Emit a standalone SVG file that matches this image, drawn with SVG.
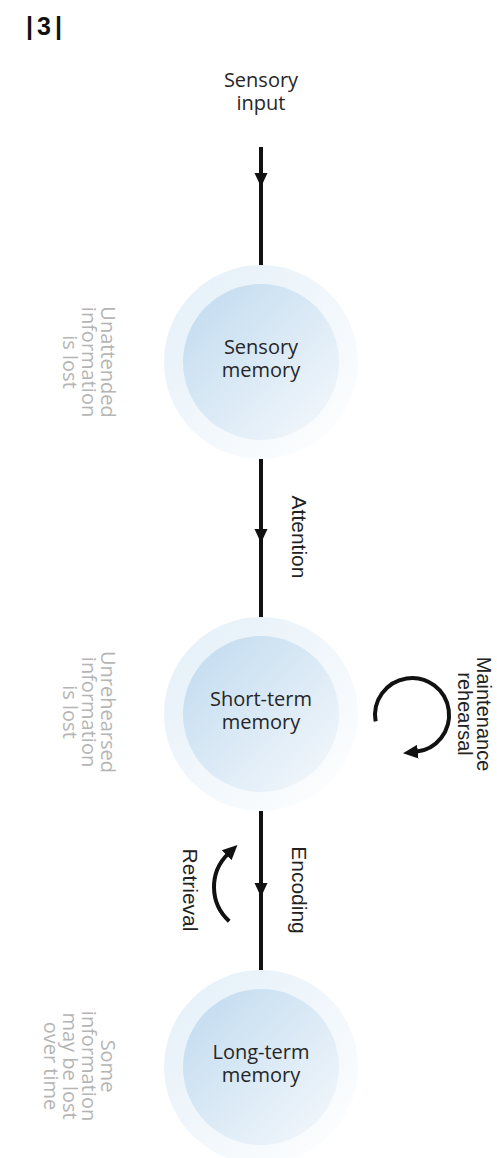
<svg xmlns="http://www.w3.org/2000/svg" width="497" height="1158" viewBox="0 0 497 1158">
  <defs>
    <linearGradient id="gOuter" x1="0" y1="0" x2="1" y2="1">
      <stop offset="0" stop-color="#e3eff8"/>
      <stop offset="1" stop-color="#ffffff"/>
    </linearGradient>
    <linearGradient id="gInner" x1="0" y1="0" x2="1" y2="1">
      <stop offset="0" stop-color="#bfdaef"/>
      <stop offset="1" stop-color="#f6f9fc"/>
    </linearGradient>
    <marker id="ah" markerUnits="userSpaceOnUse" markerWidth="16" markerHeight="16" viewBox="0 0 16 16" refX="2" refY="8" orient="auto">
      <path d="M0,1 L15,8 L0,15 Z" fill="#111"/>
    </marker>
    <style>
      .outer { fill: url(#gOuter); }
      .inner { fill: url(#gInner); }
      .ntext { font-family: "Open Sans", "Noto Sans", sans-serif; font-size: 20px; fill: #262626; text-anchor: middle; }
      .lbl { font-family: "Liberation Sans", Arial, sans-serif; font-size: 21px; fill: #222; text-anchor: middle; }
      .lbl2 { font-family: "Liberation Sans", Arial, sans-serif; font-size: 20px; fill: #222; text-anchor: middle; }
      .gray { font-family: "Open Sans", "Noto Sans", sans-serif; font-size: 20px; fill: #b5b5b5; text-anchor: middle; }
      .line { stroke: #111; stroke-width: 4; fill: none; }
      .curve { stroke: #111; stroke-width: 4; fill: none; }
      .head { fill: #111; }
      .hdr { font-family: "Liberation Sans", Arial, sans-serif; font-size: 25px; font-weight: bold; fill: #111; letter-spacing: 4px; }
    </style>
  </defs>

  <rect width="497" height="1158" fill="#ffffff"/>

  <text id="header" class="hdr" x="26" y="35">|3|</text>

  <g id="connectors">
    <g id="c-input">
      <line class="line" x1="261" y1="147" x2="261" y2="266"/>
      <polygon class="head" points="254.5,173 267.5,173 261,187"/>
    </g>
    <g id="c-attention">
      <line class="line" x1="261" y1="458" x2="261" y2="619"/>
      <polygon class="head" points="254.5,529 267.5,529 261,543"/>
    </g>
    <g id="c-encoding">
      <line class="line" x1="261" y1="810" x2="261" y2="972"/>
      <polygon class="head" points="254.5,883 267.5,883 261,897"/>
    </g>
    <g id="c-retrieval">
      <path class="curve" d="M229.2,921.2 A46,46 0 0 1 228.1,853.9" marker-end="url(#ah)"/>
    </g>
    <g id="c-maintenance">
      <path class="curve" d="M375.6,721.4 A37,37 0 1 1 415.9,751.8" marker-end="url(#ah)"/>
    </g>
  </g>

  <g id="sensory-input">
    <text class="ntext" x="261" y="87">Sensory</text>
    <text class="ntext" x="261" y="110">input</text>
  </g>

  <g id="sensory-memory">
    <circle class="outer" cx="261" cy="362" r="97"/>
    <circle class="inner" cx="261" cy="362" r="78"/>
    <text class="ntext" x="261" y="354">Sensory</text>
    <text class="ntext" x="261" y="377">memory</text>
  </g>

  <g id="short-term-memory">
    <circle class="outer" cx="261" cy="714" r="97"/>
    <circle class="inner" cx="261" cy="714" r="78"/>
    <text class="ntext" x="261" y="706">Short-term</text>
    <text class="ntext" x="261" y="729">memory</text>
  </g>

  <g id="long-term-memory">
    <circle class="outer" cx="261" cy="1067" r="97"/>
    <circle class="inner" cx="261" cy="1067" r="78"/>
    <text class="ntext" x="261" y="1059">Long-term</text>
    <text class="ntext" x="261" y="1082">memory</text>
  </g>

  <g id="label-attention">
    <text class="lbl" transform="translate(292,537) rotate(90)">Attention</text>
  </g>
  <g id="label-encoding">
    <text class="lbl" transform="translate(292,890) rotate(90)">Encoding</text>
  </g>
  <g id="label-retrieval">
    <text class="lbl" transform="translate(183,890) rotate(90)">Retrieval</text>
  </g>
  <g id="label-maintenance">
    <g transform="translate(458,714) rotate(90)">
      <text class="lbl2" x="0" y="-19">Maintenance</text>
      <text class="lbl2" x="0" y="0">rehearsal</text>
    </g>
  </g>

  <g id="note-unattended">
    <g transform="translate(63,362) rotate(90)">
      <text class="gray" x="0" y="-38">Unattended</text>
      <text class="gray" x="0" y="-19">information</text>
      <text class="gray" x="0" y="0">is lost</text>
    </g>
  </g>
  <g id="note-unrehearsed">
    <g transform="translate(63,712) rotate(90)">
      <text class="gray" x="0" y="-38">Unrehearsed</text>
      <text class="gray" x="0" y="-19">information</text>
      <text class="gray" x="0" y="0">is lost</text>
    </g>
  </g>
  <g id="note-some">
    <g transform="translate(44,1066) rotate(90)">
      <text class="gray" x="0" y="-57">Some</text>
      <text class="gray" x="0" y="-38">information</text>
      <text class="gray" x="0" y="-19">may be lost</text>
      <text class="gray" x="0" y="0">over time</text>
    </g>
  </g>
</svg>
